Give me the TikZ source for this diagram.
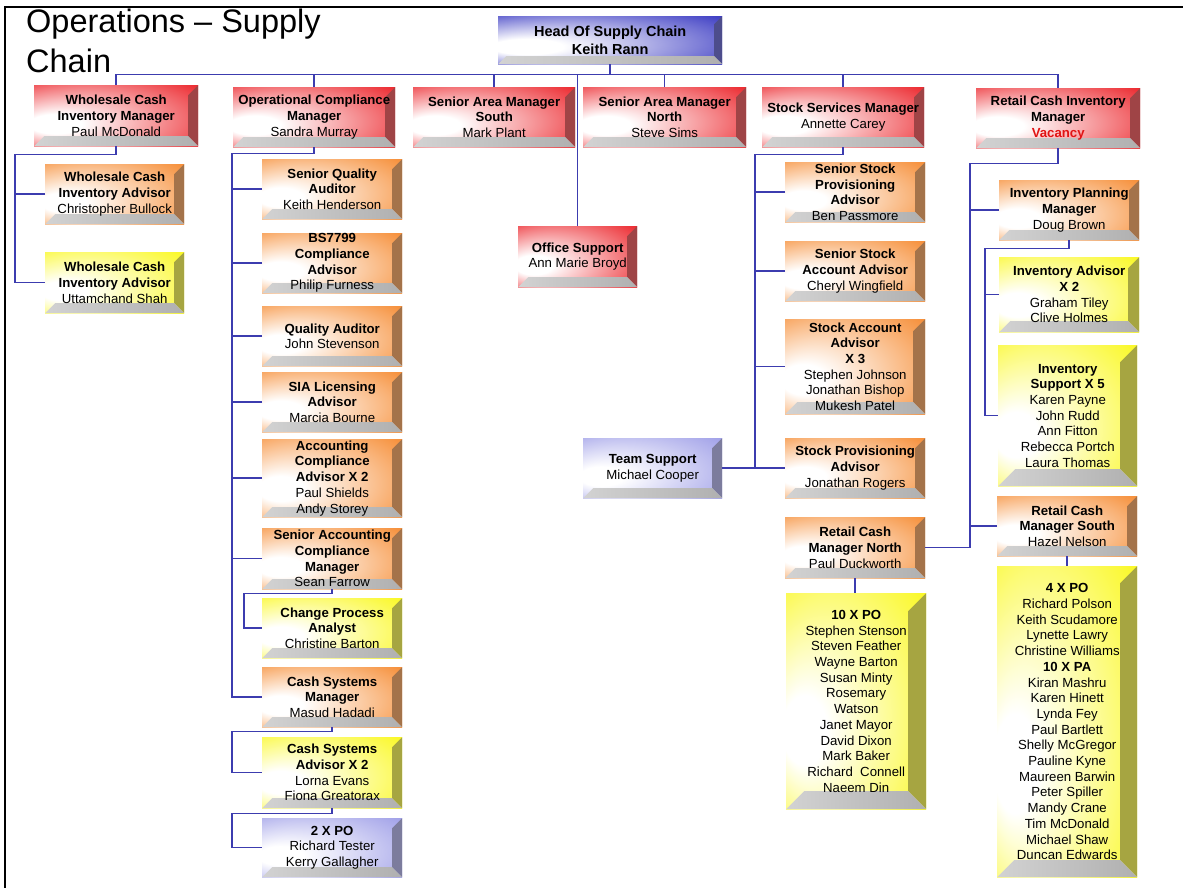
\documentclass[tikz,border=0pt]{standalone}
\usepackage{fontspec}
\setmainfont{Liberation Sans}
\usetikzlibrary{calc}
\definecolor{cRed}{RGB}{236,40,46}
\definecolor{cOrg}{RGB}{246,142,55}
\definecolor{cYel}{RGB}{250,248,35}
\definecolor{cBlu}{RGB}{60,60,195}
\definecolor{cLav}{RGB}{160,160,232}
\definecolor{cLine}{RGB}{60,60,175}
\definecolor{cVac}{RGB}{225,20,20}
\colorlet{bcol}{cRed}
\pgfdeclareradialshading[bcol]{bface}{\pgfpoint{-22bp}{-8bp}}{color(0bp)=(white); color(8bp)=(white); color(40bp)=(bcol); color(50bp)=(bcol)}
\def\bevw{10}
\tikzset{
  bev/.code={\def\bevw{#1}},
  sz/.style 2 args={minimum width=#1pt, minimum height=#2pt},
  bx/.style={/utils/exec={\colorlet{bcol}{#1}}, shade, shading=bface, anchor=north west,
    inner sep=0pt, align=center, font=\fontsize{13.2}{15.7}\selectfont,
    path picture={
      \fill[bcol!55!gray!85!black] (path picture bounding box.north east) -- (path picture bounding box.south east)
        -- ([xshift=-\bevw pt,yshift=\bevw pt]path picture bounding box.south east)
        -- ([xshift=-\bevw pt,yshift=-\bevw pt]path picture bounding box.north east) -- cycle;
      \shade[left color=gray!35, right color=gray!62] (path picture bounding box.south west) -- (path picture bounding box.south east)
        -- ([xshift=-\bevw pt,yshift=\bevw pt]path picture bounding box.south east)
        -- ([xshift=\bevw pt,yshift=\bevw pt]path picture bounding box.south west) -- cycle;
    }},
  conn/.style={draw=cLine, line width=1.5pt},
  frame/.style={draw=black, line width=1.5pt},
}
\begin{document}
\begin{tikzpicture}[x=1pt,y=-1pt]
\useasboundingbox (0,0) rectangle (1183,888);
\fill[white] (0,0) rectangle (1183,888);
\draw[frame] (5,888) -- (5,7) -- (1183,7);
\node[anchor=base west, inner sep=0pt, font=\fontsize{32.5}{40}\selectfont] (title) at (26,33)
  {\begin{tabular}[t]{@{}l@{}}Operations – Supply\\Chain\end{tabular}};

% level 0
\node[bx=cBlu, bev=8, sz={224}{48}, font=\bfseries\fontsize{14.5}{17.5}\selectfont] (head) at (498,16) {Head Of Supply Chain\\Keith Rann};
% level 1
\node[bx=cRed, sz={164}{61}] (wcim) at (34,85) {\textbf{Wholesale Cash}\\\textbf{Inventory Manager}\\Paul McDonald};
\node[bx=cRed, sz={162}{60}] (ocm) at (233,87) {\textbf{Operational Compliance}\\\textbf{Manager}\\Sandra Murray};
\node[bx=cRed, sz={162}{60}] (samS) at (413,87) {\textbf{Senior Area Manager}\\\textbf{South}\\Mark Plant};
\node[bx=cRed, sz={163}{60}] (samN) at (583,87) {\textbf{Senior Area Manager}\\\textbf{North}\\Steve Sims};
\node[bx=cRed, sz={162}{60}] (ssm) at (762,87) {\textbf{Stock Services Manager}\\Annette Carey};
\node[bx=cRed, sz={164}{60}] (rcim) at (976,88) {\textbf{Retail Cash Inventory}\\\textbf{Manager}\\\textcolor{cVac}{\textbf{Vacancy}}};
\node[bx=cRed, sz={119}{61}] (os) at (518,226) {\textbf{Office Support}\\Ann Marie Broyd};
% wholesale
\node[bx=cOrg, sz={139}{60}] (wca1) at (45,164) {\textbf{Wholesale Cash}\\\textbf{Inventory Advisor}\\Christopher Bullock};
\node[bx=cYel, sz={139}{61}] (wca2) at (45,252) {\textbf{Wholesale Cash}\\\textbf{Inventory Advisor}\\Uttamchand Shah};
% operational compliance
\node[bx=cOrg, sz={140}{60}] (sqa) at (262,159) {\textbf{Senior Quality}\\\textbf{Auditor}\\Keith Henderson};
\node[bx=cOrg, sz={140}{60}] (bs) at (262,233) {\textbf{BS7799}\\\textbf{Compliance}\\\textbf{Advisor}\\Philip Furness};
\node[bx=cOrg, sz={140}{60}] (qa) at (262,306) {\textbf{Quality Auditor}\\John Stevenson};
\node[bx=cOrg, sz={140}{60}] (sia) at (262,372) {\textbf{SIA Licensing}\\\textbf{Advisor}\\Marcia Bourne};
\node[bx=cOrg, sz={140}{78}] (aca) at (262,439) {\textbf{Accounting}\\\textbf{Compliance}\\\textbf{Advisor X 2}\\Paul Shields\\Andy Storey};
\node[bx=cOrg, sz={140}{61}] (sacm) at (262,528) {\textbf{Senior Accounting}\\\textbf{Compliance}\\\textbf{Manager}\\Sean Farrow};
\node[bx=cYel, sz={140}{60}] (cpa) at (262,598) {\textbf{Change Process}\\\textbf{Analyst}\\Christine Barton};
\node[bx=cOrg, sz={140}{60}] (csm) at (262,667) {\textbf{Cash Systems}\\\textbf{Manager}\\Masud Hadadi};
\node[bx=cYel, sz={140}{71}] (csa) at (262,737) {\textbf{Cash Systems}\\\textbf{Advisor X 2}\\Lorna Evans\\Fiona Greatorax};
\node[bx=cLav, sz={140}{59}] (po2) at (262,818) {\textbf{2 X PO}\\Richard Tester\\Kerry Gallagher};
% stock services
\node[bx=cOrg, sz={140}{60}] (sspa) at (785,162) {\textbf{Senior Stock}\\\textbf{Provisioning}\\\textbf{Advisor}\\Ben Passmore};
\node[bx=cOrg, sz={140}{60}] (ssaa) at (785,241) {\textbf{Senior Stock}\\\textbf{Account Advisor}\\Cheryl Wingfield};
\node[bx=cOrg, bev=12, sz={140}{95}] (saa) at (785,319) {\textbf{Stock Account}\\\textbf{Advisor}\\\textbf{X 3}\\Stephen Johnson\\Jonathan Bishop\\Mukesh Patel};
\node[bx=cOrg, sz={140}{60}] (spa) at (785,438) {\textbf{Stock Provisioning}\\\textbf{Advisor}\\Jonathan Rogers};
\node[bx=cLav, sz={139}{60}] (ts) at (583,438) {\textbf{Team Support}\\Michael Cooper};
\node[bx=cOrg, sz={140}{61}] (rcmn) at (785,517) {\textbf{Retail Cash}\\\textbf{Manager North}\\Paul Duckworth};
\node[bx=cYel, bev=18, sz={140}{216}] (po10) at (786,593) {\textbf{10 X PO}\\Stephen Stenson\\Steven Feather\\Wayne Barton\\Susan Minty\\Rosemary\\Watson\\Janet Mayor\\David Dixon\\Mark Baker\\Richard\ \ Connell\\Naeem Din};
% retail cash
\node[bx=cOrg, sz={140}{60}] (ipm) at (999,180) {\textbf{Inventory Planning}\\\textbf{Manager}\\Doug Brown};
\node[bx=cYel, bev=11, sz={140}{75}] (ia2) at (999,257) {\textbf{Inventory Advisor}\\\textbf{X 2}\\Graham Tiley\\Clive Holmes};
\node[bx=cYel, bev=17, sz={139}{141}] (is5) at (998,345) {\textbf{Inventory}\\\textbf{Support X 5}\\Karen Payne\\John Rudd\\Ann Fitton\\Rebecca Portch\\Laura Thomas};
\node[bx=cOrg, sz={140}{60}] (rcms) at (997,496) {\textbf{Retail Cash}\\\textbf{Manager South}\\Hazel Nelson};
\node[bx=cYel, bev=17, sz={140}{311}] (po4) at (997,566) {\textbf{4 X PO}\\Richard Polson\\Keith Scudamore\\Lynette Lawry\\Christine Williams\\\textbf{10 X PA}\\Kiran Mashru\\Karen Hinett\\Lynda Fey\\Paul Bartlett\\Shelly McGregor\\Pauline Kyne\\Maureen Barwin\\Peter Spiller\\Mandy Crane\\Tim McDonald\\Michael Shaw\\Duncan Edwards};

% connectors
\draw[conn] (head.south) -- ++(0,10) coordinate (bus);
\draw[conn] (wcim.north |- bus) -- (rcim.north |- bus);
\foreach \n in {wcim,ocm,samS,samN,ssm,rcim,os} \draw[conn] (\n.north) -- (\n.north |- bus);

\draw[conn] (wcim.south) -- ++(0,8) -| ($(wca2.west)+(-30,0)$) -- (wca2.west);
\draw[conn] (wca1.west) -- ++(-30,0);

\draw[conn] (ocm.south) -- ++(0,6) -| ($(csm.west)+(-30,0)$) -- (csm.west);
\foreach \n in {sqa,bs,qa,sia,aca,sacm} \draw[conn] (\n.west) -- ++(-30,0);
\draw[conn] (sacm.south) -- ++(0,4) -| ($(cpa.west)+(-18,0)$) -- (cpa.west);
\draw[conn] (csm.south) -- ++(0,4) -| ($(csa.west)+(-30,0)$) -- (csa.west);
\draw[conn] (csa.south) -- ++(0,5) -| ($(po2.west)+(-30,0)$) -- (po2.west);

\draw[conn] (ssm.south) -- ++(0,7) -| ($(spa.west)+(-30,0)$) coordinate (sv) -- (spa.west);
\foreach \n in {sspa,ssaa,saa} \draw[conn] (\n.west) -- ++(-30,0);
\draw[conn] (ts.east) -- (sv);

\coordinate (rv) at ($(rcms.west)+(-27,0)$);
\draw[conn] (rcim.south) -- ++(0,15) -| (rcmn.east -| rv) -- (rcmn.east);
\draw[conn] (rcms.west) -- (rv);
\draw[conn] (ipm.west) -- (ipm.west -| rv);
\draw[conn] (ipm.south) -- ++(0,8) -| ($(is5.west)+(-13,0)$) -- (is5.west);
\draw[conn] (ia2.west) -- ++(-14,0);
\draw[conn] (rcmn.south) -- (rcmn.south |- po10.north);
\draw[conn] (rcms.south) -- (rcms.south |- po4.north);
\end{tikzpicture}
\end{document}
